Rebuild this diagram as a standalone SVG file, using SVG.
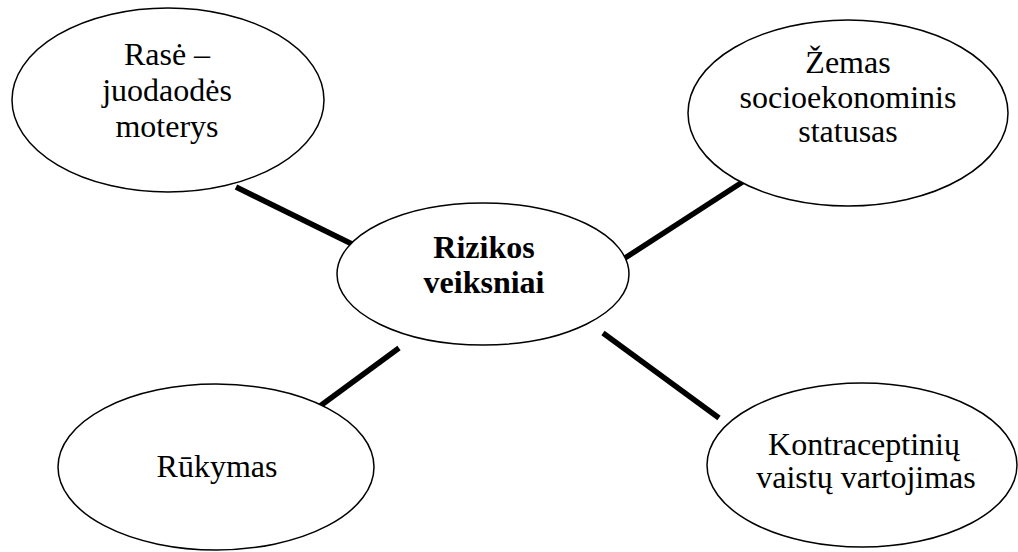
<svg xmlns="http://www.w3.org/2000/svg" width="1018" height="552" viewBox="0 0 1018 552">
  <style>
    .node ellipse { fill: #ffffff; stroke: #000000; stroke-width: 1.5; }
    .node text { font-family: "Liberation Serif", "Times New Roman", serif; font-size: 32px; fill: #000000; text-anchor: middle; }
    .node text.bold { font-weight: bold; }
    .links line { stroke: #000000; stroke-width: 5.5; stroke-linecap: butt; }
  </style>
  <rect width="1018" height="552" fill="#ffffff"/>

  <!-- connectors from the central node to each factor -->
  <g id="connectors" class="links">
    <line x1="236" y1="187" x2="354" y2="245"/>
    <line x1="625" y1="258" x2="744" y2="181"/>
    <line x1="399" y1="348" x2="316" y2="409"/>
    <line x1="603" y1="333" x2="719" y2="418"/>
  </g>

  <g id="node-center" class="node">
    <ellipse cx="483" cy="274" rx="146" ry="71"/>
    <text class="bold" x="484" y="258">Rizikos</text>
    <text class="bold" x="484" y="293">veiksniai</text>
  </g>

  <g id="node-rase" class="node">
    <ellipse cx="168" cy="100" rx="156" ry="92"/>
    <text x="167" y="65">Rasė –</text>
    <text x="167" y="101">juodaodės</text>
    <text x="167" y="137">moterys</text>
  </g>

  <g id="node-statusas" class="node">
    <ellipse cx="848" cy="113" rx="160" ry="93"/>
    <text x="848" y="73">Žemas</text>
    <text x="848" y="108">socioekonominis</text>
    <text x="848" y="142">statusas</text>
  </g>

  <g id="node-rukymas" class="node">
    <ellipse cx="216" cy="467" rx="158" ry="83"/>
    <text x="217" y="477">Rūkymas</text>
  </g>

  <g id="node-kontraceptiniai" class="node">
    <ellipse cx="862" cy="465" rx="155" ry="82"/>
    <text x="864" y="455">Kontraceptinių</text>
    <text x="866" y="488">vaistų vartojimas</text>
  </g>
</svg>
